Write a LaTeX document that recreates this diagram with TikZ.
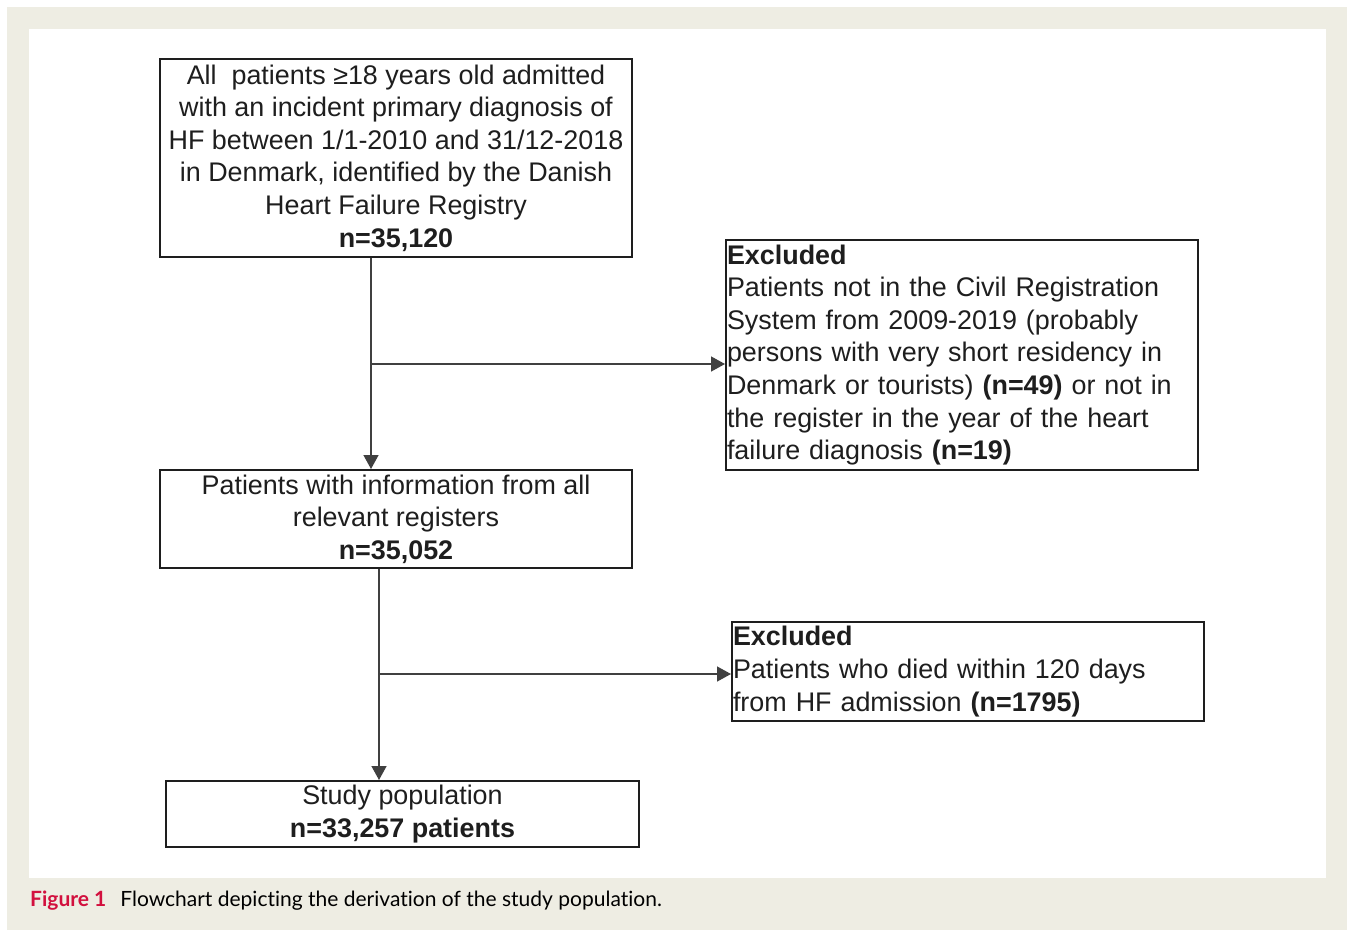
\documentclass[tikz,border=0pt]{standalone}
\usepackage{fontspec}
\setmainfont{Liberation Sans}
\newfontfamily\capfont[Ligatures=CommonOff]{Lato}
\usepackage{xcolor}
\definecolor{fcbeige}{HTML}{EEEDE3}
\definecolor{fcred}{HTML}{D2103E}
\definecolor{fcdark}{HTML}{1E1E1E}
\usetikzlibrary{arrows.meta,positioning}

\begin{document}
\begin{tikzpicture}[x=1pt,y=-1pt,>={Triangle[length=14pt,width=15pt]},node distance=211pt]
\tikzset{
 box/.style={draw=fcdark,line width=2pt,minimum width=472pt,inner sep=0pt,align=center,text=fcdark,font=\fontsize{26.9}{32.6}\selectfont},
 excl/.style={box,text width=470pt,align=left,inner xsep=1pt},
 a/.style={->,line width=1.4pt,draw=fcdark!85}
}
% background and white panel
\fill[fcbeige] (7,7) rectangle (1347,930);
\fill[white] (29,29) rectangle (1326,878);
\useasboundingbox (0,0) rectangle (1347,930);
\node[box,minimum height=198pt] (b1) at (396,158) {All\ \ patients ≥18 years old admitted\\with an incident primary diagnosis of\\HF between 1/1-2010 and 31/12-2018\\in Denmark, identified by the Danish\\Heart Failure Registry\\\textbf{n=35,120}};
\node[box,minimum height=98pt,below=of b1] (b2) {Patients with information from all\\relevant registers\\\textbf{n=35,052}};
\node[box,minimum height=66pt,minimum width=473pt,below=of b2,xshift=6.5pt] (b3) {Study population\\\textbf{n=33,257 patients}};
\node[excl,minimum height=230pt] (ex1) at (962,355) {\textbf{Excluded}\\Patients not in the Civil Registration\\System from 2009-2019 (probably\\persons with very short residency in\\Denmark or tourists) \textbf{(n=49)} or not in\\the register in the year of the heart\\failure diagnosis \textbf{(n=19)}};
\node[excl,minimum height=99pt] (ex2) at (968,671.5) {\textbf{Excluded}\\Patients who died within 120 days\\from HF admission \textbf{(n=1795)}};
\coordinate (j1) at (371,364);
\coordinate (j2) at (379,674);
\draw[a] (b1.south -| j1) -- (b2.north -| j1);
\draw[a] (j1) -- (ex1.west |- j1);
\draw[a] (b2.south -| j2) -- (b3.north -| j2);
\draw[a] (j2) -- (ex2.west |- j2);
% caption
\node[anchor=base west,inner sep=0pt,font=\capfont\fontsize{21}{25}\selectfont] (cap) at (30,906) {\textcolor{fcred}{\bfseries Figure 1}\hspace{14pt}Flowchart depicting the derivation of the study population.};
\end{tikzpicture}
\end{document}
